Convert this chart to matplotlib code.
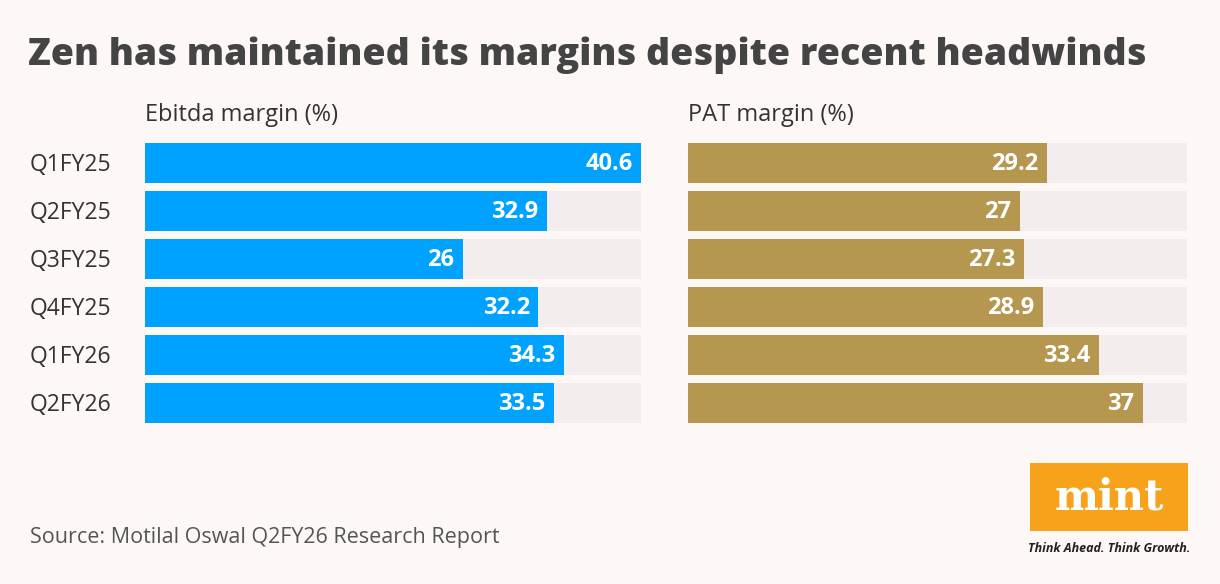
import matplotlib
matplotlib.use("Agg")
import matplotlib.pyplot as plt
from matplotlib.patches import Rectangle
from matplotlib.transforms import blended_transform_factory

quarters = ["Q1FY25", "Q2FY25", "Q3FY25", "Q4FY25", "Q1FY26", "Q2FY26"]
ebitda = [40.6, 32.9, 26, 32.2, 34.3, 33.5]
pat = [29.2, 27, 27.3, 28.9, 33.4, 37]
labels_e = ["40.6", "32.9", "26", "32.2", "34.3", "33.5"]
labels_p = ["29.2", "27", "27.3", "28.9", "33.4", "37"]

BG = "#fdf8f6"
W, H = 1220, 584
fig = plt.figure(figsize=(W/100, H/100), dpi=100, facecolor=BG)
plt.rcParams['font.family'] = ['Open Sans', 'DejaVu Sans']

fig.text(28/W, 1-55/H, "Zen has maintained its margins despite recent headwinds",
         fontsize=26.9, fontweight='heavy', color='#444444', va='center', ha='left')

def panel(x0, x1, vals, labs, color, title, show_y):
    ax = fig.add_axes([x0/W, 1-427/H, (x1-x0)/W, 288/H])
    ax.set_facecolor('none')
    y = range(len(vals))
    ax.barh(y, [40.6]*len(vals), height=0.83, color='#f3eded')
    ax.barh(y, vals, height=0.83, color=color)
    for i, (v, l) in enumerate(zip(vals, labs)):
        ax.text(v-0.7, i + 0.03, l, ha='right', va='center', color='white',
                fontsize=17, fontweight='bold')
    ax.set_xlim(0, 40.6)
    ax.set_ylim(5.5, -0.5)
    for s in ax.spines.values():
        s.set_visible(False)
    ax.set_xticks([])
    ax.set_yticks([])
    if show_y:
        tr = blended_transform_factory(fig.transFigure, ax.transData)
        for i, q in enumerate(quarters):
            ax.text(30/W, i + 0.04, q, transform=tr, fontsize=16.5, color='#333333',
                    ha='left', va='center')
    fig.text(x0/W, 1-115/H, title, fontsize=17, color='#333333', va='center', ha='left')
    return ax

panel(145, 641, ebitda, labels_e, '#00a2ff', "Ebitda margin (%)", True)
panel(688, 1187, pat, labels_p, '#b5974f', "PAT margin (%)", False)

fig.text(30/W, 1-538/H, "Source: Motilal Oswal Q2FY26 Research Report",
         fontsize=15.5, color='#555555', va='center', ha='left')

fig.patches.append(Rectangle((1030/W, 1-531/H), 158/W, 68/H, transform=fig.transFigure,
                             facecolor='#f7a21b', edgecolor='none'))
fig.text(1109/W, 1-497/H, "mint", fontsize=30, fontweight='bold', color='white',
         family='DejaVu Serif', ha='center', va='center')
fig.text(1109/W, 1-548/H, "Think Ahead. Think Growth.", fontsize=9, fontstyle='italic',
         fontweight='bold', color='#222222', ha='center', va='center')

fig.savefig("out.png", dpi=100, facecolor=BG)
